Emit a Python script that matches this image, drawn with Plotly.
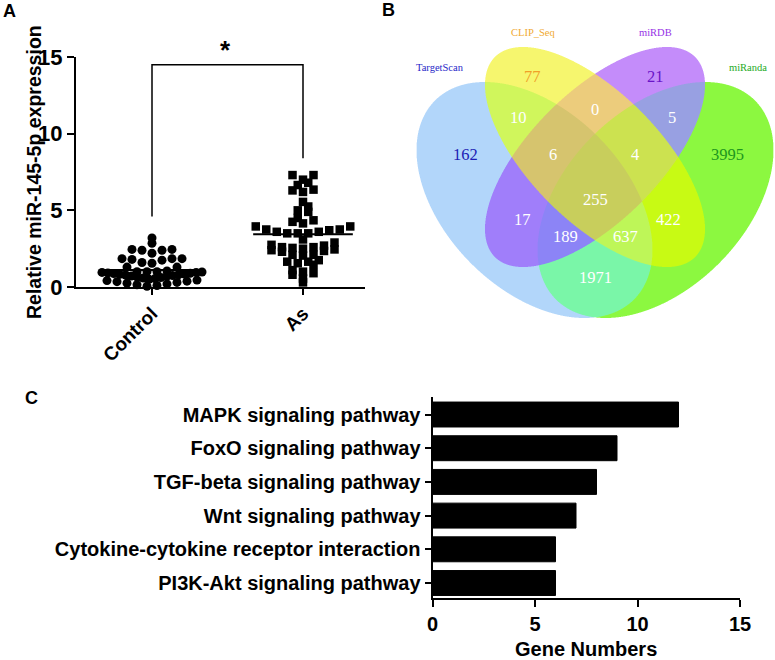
import base64, struct, zlib
import numpy as np
import plotly.graph_objects as go

# ---------------- DATA ----------------
# Panel A: relative miR-145-5p expression (scatter dot plot with mean)
groups = ["Control", "As"]
control_vals = [3.2, 2.85, 2.45, 2.45, 2.4, 2.4, 2.2, 1.85, 1.85, 1.85, 1.8, 1.75, 1.6, 1.55,
                1.3, 1.3, 1.05, 1.0, 1.0, 1.0, 0.98, 0.95, 0.95, 0.92, 0.9, 0.88, 0.85, 0.82,
                0.8, 0.78, 0.75, 0.72, 0.7, 0.65, 0.62, 0.58, 0.55, 0.5, 0.45, 0.42, 0.38,
                0.35, 0.3, 0.25, 0.2, 0.15, 0.1, 0.05]
as_vals = [7.3, 7.3, 7.0, 6.8, 6.65, 6.35, 6.3, 6.2, 5.55, 5.25, 5.0, 4.9, 4.5, 4.35, 4.25,
           4.15, 3.95, 3.95, 3.75, 3.75, 3.7, 3.6, 3.6, 3.5, 3.5, 3.5, 3.1, 2.9, 2.75, 2.7,
           2.6, 2.6, 2.55, 2.5, 2.45, 2.4, 2.35, 2.3, 2.1, 2.1, 2.05, 1.75, 1.65, 1.65, 1.55,
           1.45, 1.1, 1.0, 0.9, 0.8, 0.55, 0.3]
a_yticks = [0, 5, 10, 15]

# Panel B: Venn diagram counts (membership order: TargetScan, CLIP_Seq, miRDB, miRanda)
venn_sets = ["TargetScan", "CLIP_Seq", "miRDB", "miRanda"]
venn_keys = ["1000", "0100", "0010", "0001", "1100", "0110", "0011", "1010",
             "1001", "0101", "1110", "0111", "1011", "1101", "1111"]
venn_counts = [162, 77, 21, 3995, 10, 0, 5, 17, 1971, 422, 6, 4, 189, 637, 255]

# Panel C: KEGG pathways
pathways = ["MAPK signaling pathway", "FoxO signaling pathway", "TGF-beta signaling pathway",
            "Wnt signaling pathway", "Cytokine-cytokine receptor interaction",
            "PI3K-Akt signaling pathway"]
gene_numbers = [12, 9, 8, 7, 6, 6]
c_xticks = [0, 5, 10, 15]

# ---------------- STYLE / LAYOUT ----------------
W, H = 775, 660
SANS = "Liberation Sans, Arial, sans-serif"
SERIF = "Liberation Serif, Times New Roman, serif"


def xdom(a, b):
    return [a / W, b / W]


def ydom(top, bottom):
    return [1 - bottom / H, 1 - top / H]


# panel A pixel geometry
A_X0, A_X1, A_Y0, A_Y1 = 76, 365, 57, 287
A_CAT_PX = 151.0
a_xrange = [1 - (152 - A_X0) / A_CAT_PX, 1 - (152 - A_X0) / A_CAT_PX + (A_X1 - A_X0) / A_CAT_PX]


def swarm(vals, spacing_px, bin_units=0.5, max_half_px=50):
    v = np.asarray(vals, dtype=float)
    bins = np.floor(v / bin_units).astype(int)
    offs = np.zeros(len(v))
    for b in np.unique(bins):
        idx = np.where(bins == b)[0]
        idx = idx[np.argsort(v[idx])]
        n = len(idx)
        step = spacing_px
        if n > 1 and (n - 1) * step / 2 > max_half_px:
            step = 2 * max_half_px / (n - 1)
        pos = sorted([(k - (n - 1) / 2) * step for k in range(n)], key=lambda p: (abs(p), p))
        for i, p in zip(idx, pos):
            offs[i] = p
    return offs / A_CAT_PX


fig = go.Figure()

# ---- Panel A traces
series = [(control_vals, "circle", 9, 10.0), (as_vals, "square", 8.5, 10.5)]
for gi, (vals, sym, size, sp) in enumerate(series):
    g = gi + 1
    offs = swarm(vals, sp)
    fig.add_trace(go.Scatter(x=g + offs, y=vals, mode="markers", xaxis="x", yaxis="y",
                             marker=dict(symbol=sym, size=size, color="black", line=dict(width=0)),
                             cliponaxis=False, showlegend=False, hoverinfo="y"))
    m = float(np.mean(vals))
    fig.add_trace(go.Scatter(x=[g - 0.33, g + 0.33], y=[m, m], mode="lines", xaxis="x", yaxis="y",
                             line=dict(color="black", width=2), showlegend=False, hoverinfo="skip"))

# significance bracket
fig.add_shape(type="path", xref="x", yref="y",
              path="M 1,4.6 L 1,14.5 L 2,14.5 L 2,8.4",
              line=dict(color="black", width=1.5))

# ---- Panel B: Venn raster (ellipses: cx, cy, semi-major, semi-minor, angle)
ellipses = [(534.5, 200, 140.7, 89.7, 45), (595, 157, 141.5, 64.7, 45),
            (595, 157, 141.5, 64.7, 135), (655.5, 200, 140.7, 89.7, 135)]
region_rgb = {
    "1000": (178, 214, 250), "0100": (246, 246, 110), "0010": (196, 140, 250),
    "0001": (140, 248, 64), "1100": (208, 246, 92), "0110": (236, 204, 124),
    "0011": (152, 160, 226), "1010": (160, 126, 250), "1001": (122, 246, 168),
    "0101": (200, 250, 20), "1110": (214, 196, 110), "0111": (204, 226, 80),
    "1011": (140, 132, 246), "1101": (190, 246, 88), "1111": (200, 206, 92),
}
B_X0, B_X1, B_Y0, B_Y1 = 395, 775, 20, 325
SS = 3
xs = B_X0 + (np.arange((B_X1 - B_X0) * SS) + 0.5) / SS
ys = B_Y0 + (np.arange((B_Y1 - B_Y0) * SS) + 0.5) / SS
XX, YY = np.meshgrid(xs, ys)
code = np.zeros(XX.shape, dtype=int)
for k, (cx, cy, a, b, ang) in enumerate(ellipses):
    t = np.deg2rad(ang)
    dxp, dyp = XX - cx, YY - cy
    u = dxp * np.cos(t) + dyp * np.sin(t)
    v = -dxp * np.sin(t) + dyp * np.cos(t)
    inside = (u / a) ** 2 + (v / b) ** 2 <= 1
    code += inside.astype(int) << (3 - k)
palette = np.full((16, 3), 255.0)
for key, col in region_rgb.items():
    palette[int(key, 2)] = col
img = palette[code]
hh, ww = (B_Y1 - B_Y0), (B_X1 - B_X0)
img = img.reshape(hh, SS, ww, SS, 3).mean(axis=(1, 3))
img = np.clip(np.round(img), 0, 255).astype(np.uint8)


def png_uri(rgb):
    h, w, _ = rgb.shape
    raw = b"".join(b"\x00" + rgb[r].tobytes() for r in range(h))

    def chunk(tag, data):
        c = struct.pack(">I", len(data)) + tag + data
        return c + struct.pack(">I", zlib.crc32(tag + data) & 0xFFFFFFFF)

    png = (b"\x89PNG\r\n\x1a\n" + chunk(b"IHDR", struct.pack(">IIBBBBB", w, h, 8, 2, 0, 0, 0))
           + chunk(b"IDAT", zlib.compress(raw, 9)) + chunk(b"IEND", b""))
    return "data:image/png;base64," + base64.b64encode(png).decode()


fig.add_trace(go.Image(source=png_uri(img), x0=B_X0 + 0.5, y0=B_Y0 + 0.5, dx=1, dy=1,
                       xaxis="x2", yaxis="y2", hoverinfo="skip"))

count_pos = {"1000": (465, 155), "0100": (532, 77), "0010": (655, 77), "0001": (727, 155),
             "1100": (518, 118), "0110": (595, 110), "0011": (672, 118), "1010": (522, 220),
             "1001": (595, 277), "0101": (668, 220), "1110": (553, 155), "0111": (635, 155),
             "1011": (565, 237), "1101": (625, 237), "1111": (595, 200)}
count_col = {"1000": "#1c1cb4", "0100": "#f0a028", "0010": "#6a14c8", "0001": "#1e961e"}
for key, cnt in zip(venn_keys, venn_counts):
    px, py = count_pos[key]
    fig.add_annotation(x=px, y=py, xref="x2", yref="y2", text=str(cnt), showarrow=False,
                       xanchor="center", yanchor="middle",
                       font=dict(family=SERIF, size=16.5, color=count_col.get(key, "white")))
label_pos = [(440, 68), (533, 33), (655, 33), (748, 68)]
label_col = ["#2828c8", "#f0aa32", "#9632e6", "#1eaa1e"]
for name, (px, py), col in zip(venn_sets, label_pos, label_col):
    fig.add_annotation(x=px, y=py, xref="x2", yref="y2", text=name, showarrow=False,
                       xanchor="center", yanchor="middle",
                       font=dict(family=SERIF, size=10.5, color=col))

# ---- Panel C
fig.add_trace(go.Bar(x=gene_numbers, y=pathways, orientation="h", xaxis="x3", yaxis="y3",
                     marker=dict(color="black", line=dict(color="black", width=1)),
                     width=0.74, showlegend=False))

# ---- Axes
axis_common = dict(showgrid=False, zeroline=False, showline=True, linecolor="black",
                   linewidth=2, ticks="outside", tickcolor="black", tickwidth=2,
                   automargin=False)
fig.update_layout(
    width=W, height=H, margin=dict(l=0, r=0, t=0, b=0, pad=0, autoexpand=False),
    paper_bgcolor="white", plot_bgcolor="white", showlegend=False,
    xaxis=dict(domain=xdom(A_X0, A_X1), range=a_xrange, anchor="y", tickvals=[1, 2],
               ticktext=groups, tickangle=-45, ticklen=6,
               tickfont=dict(family=SANS, size=19, color="black", weight=700), **axis_common),
    yaxis=dict(domain=ydom(A_Y0, A_Y1), range=[0, 15], anchor="x", tickvals=a_yticks,
               ticklen=7, tickfont=dict(family=SANS, size=22, color="black", weight=700),
               **axis_common),
    xaxis2=dict(domain=xdom(B_X0, B_X1), range=[B_X0, B_X1], anchor="y2", visible=False),
    yaxis2=dict(domain=ydom(B_Y0, B_Y1), range=[B_Y1, B_Y0], anchor="x2", visible=False),
    xaxis3=dict(domain=xdom(432.5, 740), range=[0, 15], anchor="y3", tickvals=c_xticks,
                ticklen=7, tickfont=dict(family=SANS, size=20, color="black", weight=700),
                **axis_common),
    yaxis3=dict(domain=ydom(397, 598), anchor="x3", type="category", categoryorder="array",
                categoryarray=pathways[::-1], range=[-0.445, 5.52], ticklen=6,
                tickfont=dict(family=SANS, size=20, color="black", weight=700), **axis_common),
)


def paper_text(px, py, text, size, angle=0, family=SANS, weight=700):
    fig.add_annotation(x=px / W, y=1 - py / H, xref="paper", yref="paper", text=text,
                       textangle=angle, showarrow=False, xanchor="center", yanchor="middle",
                       font=dict(family=family, size=size, color="black", weight=weight))


paper_text(34, 172, "Relative miR-145-5p expression", 19.5, angle=-90)
paper_text(225, 50, "*", 26)
paper_text(586, 649, "Gene Numbers", 20)
paper_text(9, 11, "A", 18)
paper_text(388, 10, "B", 18)
paper_text(31, 398, "C", 18)

fig.write_html("out.html", config={"displayModeBar": False},
               post_script="document.body.style.margin='0px';document.body.style.overflow='hidden';")
